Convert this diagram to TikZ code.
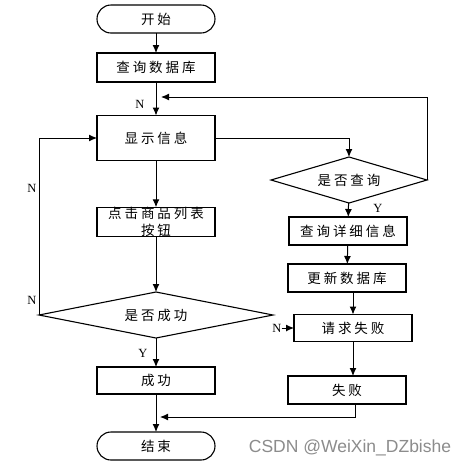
\documentclass[tikz,border=0pt]{standalone}
\usepackage{fontspec}
\usetikzlibrary{shapes.geometric,arrows.meta}
\newfontfamily\cjk[LetterSpace=22]{Noto Sans CJK SC}
\newfontfamily\lbl{Liberation Serif}
\newfontfamily\wm{Liberation Sans}
\begin{document}
\begin{tikzpicture}[x=1pt,y=-1pt,
  every node/.style={inner sep=0pt,outer sep=0pt},
  proc/.style={draw,line width=1.2pt,rectangle,minimum width=118pt,minimum height=28pt,font=\cjk\fontsize{13.5}{16}\selectfont,align=center},
  term/.style={draw,line width=1.1pt,rectangle,rounded corners=14pt,minimum width=118pt,minimum height=28pt,font=\cjk\fontsize{13.5}{16}\selectfont},
  dec/.style={draw,line width=1.1pt,diamond,shape aspect=5,font=\cjk\fontsize{13.5}{16}\selectfont},
  yn/.style={font=\lbl\fontsize{12.5}{13}\selectfont},
  conn/.style={line width=1pt,-{Latex[length=8pt,width=7pt]}},
  plain/.style={line width=1pt}]
\path[use as bounding box,fill=white] (0,0) rectangle (471,467);
% left column
\node[term] (start) at (156,19) {开始};
\node[proc,minimum height=29pt] (db) at (156,67.5) {查询数据库};
\node[proc,minimum height=45pt] (show) at (156,138) {显示信息};
\node[proc,font=\cjk\fontsize{13.5}{17}\selectfont] (click) at (156,222) {点击商品列表\\按钮};
\node[dec,minimum width=234pt,minimum height=46pt] (isok) at (156,315) {是否成功};
\node[proc,minimum height=27pt] (ok) at (156,380.5) {成功};
\node[term] (end) at (156,446) {结束};
% right column
\node[dec,shape aspect=3.4,minimum width=156pt,minimum height=46pt] (query) at (349,180) {是否查询};
\node[proc] (detail) at (348,231) {查询详细信息};
\node[proc] (update) at (347,278) {更新数据库};
\node[proc,minimum height=27pt] (reqfail) at (353,328) {请求失败};
\node[proc] (fail) at (347,390) {失败};
% labels
\node[yn] (n1) at (140,104) {N};
\node[yn] (n2) at (32,188) {N};
\node[yn] (n3) at (32,300) {N};
\node[yn] (n4) at (277,328) {N};
\node[yn] (y1) at (378,208) {Y};
\node[yn] (y2) at (143,353) {Y};
\node[font=\wm\fontsize{17.5}{20}\selectfont,text=black!45] (wmk) at (350,448) {CSDN @WeiXin\_DZbishe};
% junction coordinates
\coordinate (j1) at (161,97);
\coordinate (j2) at (160,417);
% connectors
\draw[conn] (start) -- (db);
\draw[conn] (db) -- (show);
\draw[conn] (show.east) -| (query.north);
\draw[conn] (query.east) |- (j1);
\draw[conn] (query) -- (detail);
\draw[conn] (detail) -- (update);
\draw[conn] (reqfail.north |- update.south) -- (reqfail.north);
\draw[conn] (reqfail.south) -- (reqfail.south |- fail.north);
\draw[conn] ([xshift=8pt]fail.south) |- (j2);
\draw[conn] (show) -- (click);
\draw[conn] (click) -- (isok);
\draw[conn] (isok) -- (ok);
\draw[conn] (ok) -- (end);
\draw[conn] (isok.west) |- (show.west);
\draw[conn] (n4.east) -- (reqfail.west);
\end{tikzpicture}
\end{document}
